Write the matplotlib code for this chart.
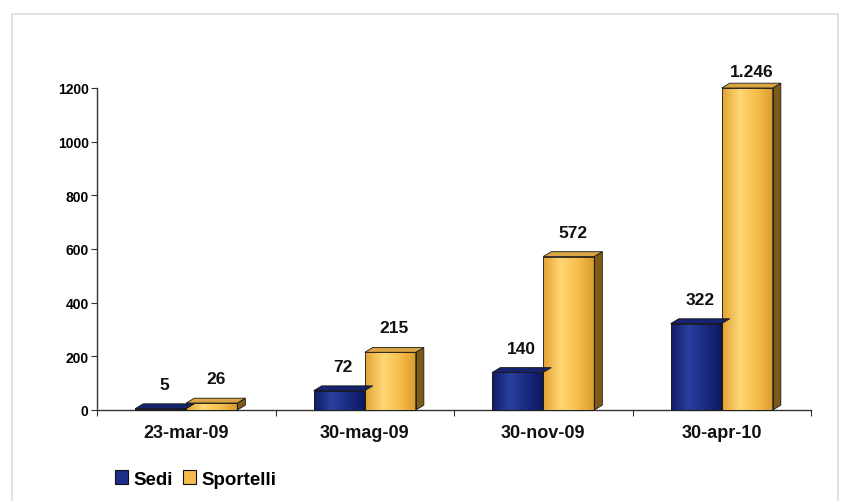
import numpy as np
import matplotlib.pyplot as plt
from matplotlib.patches import Polygon, Rectangle
from matplotlib.colors import LinearSegmentedColormap

categories = ["23-mar-09", "30-mag-09", "30-nov-09", "30-apr-10"]
sedi = [5, 72, 140, 322]
sportelli = [26, 215, 572, 1246]
series_names = ["Sedi", "Sportelli"]

plt.rcParams["font.family"] = ["Liberation Sans", "DejaVu Sans"]
plt.rcParams["font.weight"] = "bold"

YMAX = 1200
BAR_W = 0.286
DX = 0.045      # depth to the right, data units
DY = 18.0       # depth upward, data units

styles = {
    "Sedi": dict(cmap=LinearSegmentedColormap.from_list("b", ["#101c68", "#2a3f9e", "#1b2b82", "#0d185c"]),
                 top="#16236e", side="#0a1348", legend="#1c2d8a"),
    "Sportelli": dict(cmap=LinearSegmentedColormap.from_list("g", ["#e3a233", "#ffd774", "#f6bf4e", "#d99a2c"]),
                      top="#d9a441", side="#7d5a17", legend="#f5bd4c"),
}


def draw_bar(ax, x0, h, name):
    st = styles[name]
    x1 = x0 + BAR_W
    hh = min(h, YMAX)
    grad = np.linspace(0, 1, 64).reshape(1, -1)
    im = ax.imshow(grad, extent=[x0, x1, 0, hh], aspect="auto", cmap=st["cmap"],
                   origin="lower", zorder=3, clip_on=False)
    front = Rectangle((x0, 0), BAR_W, hh, facecolor="none", edgecolor="#1a1a1a",
                      lw=0.6, zorder=4, clip_on=False)
    ax.add_patch(front)
    im.set_clip_path(front)
    side = Polygon([(x1, 0), (x1 + DX, DY), (x1 + DX, hh + DY), (x1, hh)],
                   facecolor=st["side"], edgecolor="#1a1a1a", lw=0.6, zorder=3, clip_on=False)
    top = Polygon([(x0, hh), (x0 + DX, hh + DY), (x1 + DX, hh + DY), (x1, hh)],
                  facecolor=st["top"], edgecolor="#1a1a1a", lw=0.6, zorder=4, clip_on=False)
    ax.add_patch(side)
    ax.add_patch(top)
    return hh


fig = plt.figure(figsize=(8.5, 5.02), dpi=100)
fig.patches.append(Rectangle((12 / 850, -5 / 502), 826 / 850, 492 / 502, transform=fig.transFigure,
                             facecolor="none", edgecolor="#dcdce6", lw=1.2))
ax = fig.add_axes([97 / 850, 1 - 411 / 502, 714 / 850, 322 / 502])

centers = np.arange(len(categories)) + 0.5
for i, c in enumerate(centers):
    for j, (name, vals) in enumerate(zip(series_names, [sedi, sportelli])):
        x0 = c - BAR_W + j * BAR_W
        hh = draw_bar(ax, x0, vals[i], name)
        label = f"{vals[i]:,}".replace(",", ".")
        ax.annotate(label, (x0 + BAR_W / 2 + DX / 2, hh + DY), xytext=(0, 12 if vals[i] <= YMAX else 4),
                    textcoords="offset pixels", ha="center", va="bottom", annotation_clip=False,
                    fontsize=12.5, fontweight="bold", color="#111111")

ax.set_xlim(0, len(categories))
ax.set_ylim(0, YMAX)
ax.set_xticks(np.arange(len(categories) + 1))
ax.set_xticklabels([])
ax.set_xticks(centers, minor=True)
ax.set_xticklabels(categories, minor=True, fontsize=13, fontweight="bold", color="#111111")
ax.tick_params(axis="x", which="minor", length=0, pad=10)
ax.tick_params(axis="x", which="major", length=4, direction="out", color="#333333")
ax.set_yticks(np.arange(0, YMAX + 1, 200))
ax.tick_params(axis="y", length=4, direction="out", labelsize=10, color="#333333", pad=2)
for lbl in ax.get_yticklabels():
    lbl.set_fontweight("bold")
for s in ["top", "right"]:
    ax.spines[s].set_visible(False)
for s in ["left", "bottom"]:
    ax.spines[s].set_color("#333333")
    ax.spines[s].set_linewidth(1.0)
ax.set_facecolor("none")

handles = [Rectangle((0, 0), 1, 1, facecolor=styles[n]["legend"], edgecolor="#111111", lw=0.8)
           for n in series_names]
fig.legend(handles, series_names, loc="center left", bbox_to_anchor=(98 / 850, 1 - 480 / 502),
           ncol=2, frameon=False, handlelength=0.7, handleheight=0.7, handletextpad=0.3,
           columnspacing=0.5, prop={"size": 13.5, "weight": "bold"})

fig.savefig("out.png", dpi=100)
